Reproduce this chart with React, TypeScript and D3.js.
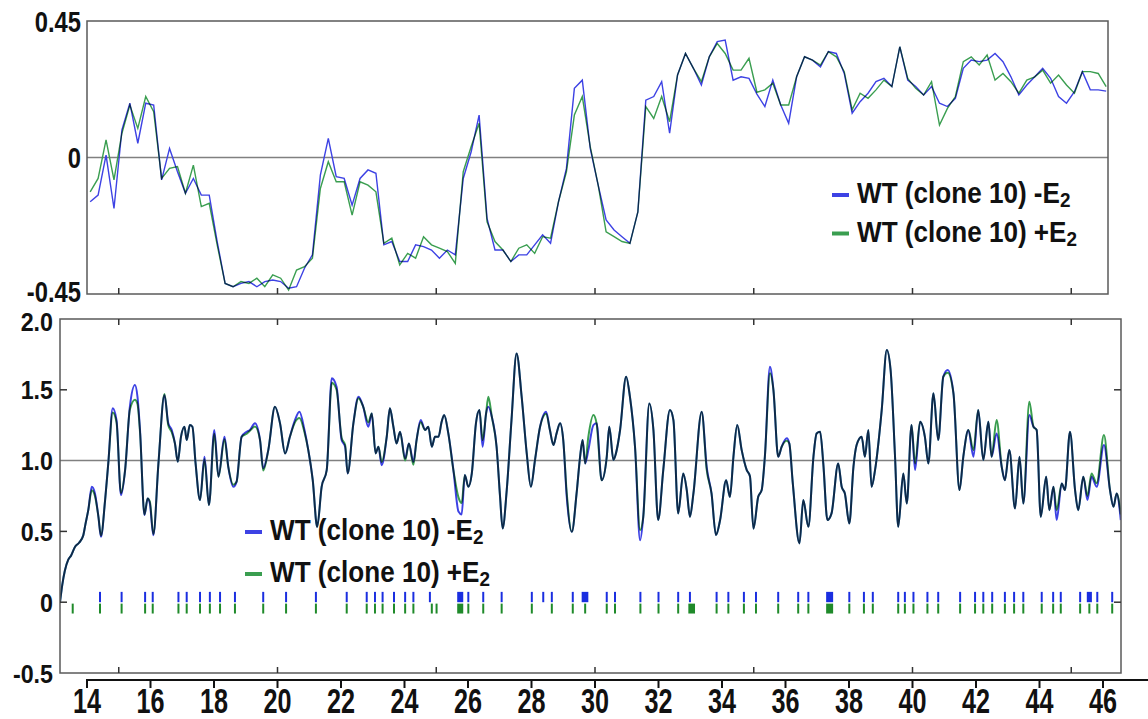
import React from 'react';
import * as d3 from 'd3';

const W = 1148;
const H = 719;
const FONT = '"Liberation Sans", Arial, Helvetica, sans-serif';
const BLUE = '#3d42e4';
const GREEN = '#3a9e50';

// ---------- top panel (binned, 0.25 step) ----------
const topPositions = d3.range(129).map((i) => 14.1 + 0.25 * i);
const topBlue = [
  -0.146, -0.124, 0.008, -0.168, 0.091, 0.179, 0.047, 0.179, 0.173, -0.074,
  0.03, -0.047, -0.118, -0.069, -0.124, -0.124, -0.277, -0.415, -0.426, -0.415,
  -0.409, -0.426, -0.409, -0.404, -0.409, -0.431, -0.426, -0.365, -0.321, -0.058,
  0.063, -0.063, -0.069, -0.157, -0.069, -0.041, -0.052, -0.288, -0.277, -0.343,
  -0.343, -0.288, -0.294,
  -0.305, -0.332, -0.305, -0.321, -0.069, 0.019, 0.14, -0.201, -0.305, -0.305,
  -0.343, -0.321, -0.321, -0.288, -0.255, -0.283, -0.146, -0.036, 0.228, 0.255,
  0.03, -0.091, -0.206, -0.239, -0.261, -0.283, -0.179, 0.189, 0.201, 0.25,
  0.08, 0.272, 0.343, 0.294, 0.239, 0.332, 0.382, 0.387, 0.255, 0.266,
  0.261, 0.209,
  0.168, 0.255, 0.173, 0.113, 0.266, 0.332, 0.321, 0.299, 0.349, 0.343,
  0.277, 0.146, 0.184, 0.212, 0.25, 0.261, 0.234, 0.365, 0.255, 0.234,
  0.206, 0.234, 0.179, 0.168, 0.195, 0.294, 0.321, 0.316, 0.321, 0.343,
  0.316, 0.266, 0.206, 0.239, 0.266, 0.294, 0.261, 0.201, 0.179, 0.217,
  0.283, 0.223, 0.223, 0.219,
];
const topGreen = [
  -0.113, -0.069, 0.058, -0.074, 0.08, 0.173, 0.096, 0.201, 0.151, -0.069,
  -0.036, -0.03, -0.118, -0.025, -0.162, -0.151, -0.288, -0.415, -0.426, -0.409,
  -0.415, -0.398, -0.426, -0.387, -0.398, -0.437, -0.371, -0.36, -0.332, -0.102,
  -0.014, -0.08, -0.08, -0.19, -0.08, -0.091, -0.113, -0.283, -0.266, -0.354,
  -0.316, -0.332, -0.261,
  -0.288, -0.299, -0.31, -0.349, -0.047, 0.036, 0.113, -0.212, -0.277, -0.305,
  -0.343, -0.299, -0.288, -0.316, -0.261, -0.266, -0.146, -0.047, 0.14, 0.201,
  0.036, -0.091, -0.245, -0.261, -0.277, -0.283, -0.179, 0.168, 0.129, 0.201,
  0.118, 0.272, 0.343, 0.294, 0.25, 0.332, 0.376, 0.343, 0.288, 0.288,
  0.327, 0.215,
  0.223, 0.245, 0.173, 0.173, 0.266, 0.332, 0.321, 0.305, 0.349, 0.332,
  0.283, 0.157, 0.212, 0.195, 0.223, 0.255, 0.234, 0.365, 0.261, 0.228,
  0.206, 0.25, 0.107, 0.162, 0.201, 0.316, 0.332, 0.305, 0.338, 0.255,
  0.277, 0.25, 0.212, 0.255, 0.266, 0.288, 0.245, 0.272, 0.239, 0.212,
  0.283, 0.283, 0.277, 0.234,
];

// ---------- bottom panel ----------
const bottomPositions = [
  13.15, 13.22, 13.3, 13.41, 13.5, 13.62, 13.75, 13.88, 13.95, 14.04,
  14.15, 14.25, 14.36, 14.44, 14.57, 14.67, 14.81, 14.93, 15.07, 15.2,
  15.35, 15.51, 15.59, 15.67, 15.81, 15.91, 15.98, 16.09, 16.25, 16.44,
  16.56, 16.67, 16.77, 16.86, 16.96, 17.07, 17.14, 17.24, 17.32, 17.42,
  17.56, 17.7, 17.84, 18.01, 18.14, 18.33, 18.45, 18.61, 18.71, 18.87,
  19.03, 19.13, 19.29, 19.45, 19.55, 19.71, 19.92, 20.08, 20.24, 20.39,
  20.55, 20.69, 20.85, 20.97, 21.11, 21.25, 21.39, 21.55, 21.71, 21.86,
  22.02, 22.13, 22.21, 22.39, 22.55, 22.7, 22.86, 22.97, 23.09, 23.18,
  23.28, 23.44, 23.54, 23.65, 23.75, 23.86, 24.02, 24.14, 24.28, 24.38,
  24.51, 24.65, 24.75, 24.86, 24.96, 25.07, 25.17, 25.25, 25.38, 25.54,
  25.7, 25.8, 25.9, 26.01, 26.12, 26.25, 26.36, 26.46, 26.57, 26.64,
  26.75, 26.9, 27.01, 27.09, 27.22, 27.37, 27.53, 27.69, 27.85, 27.98,
  28.11, 28.27, 28.46, 28.58, 28.69, 28.79, 28.9, 29.0, 29.11, 29.27,
  29.42, 29.53, 29.61, 29.69, 29.79, 29.95, 30.05, 30.21, 30.37, 30.45,
  30.58, 30.66, 30.79, 30.98, 31.1, 31.26, 31.42, 31.52, 31.71, 31.84,
  31.99, 32.15, 32.36, 32.47, 32.62, 32.78, 32.89, 32.99, 33.1, 33.36,
  33.52, 33.67, 33.81, 33.94, 34.13, 34.25, 34.36, 34.48, 34.62, 34.78,
  34.88, 34.99, 35.14, 35.25, 35.35, 35.51, 35.62, 35.77, 35.88, 36.04,
  36.12, 36.23, 36.44, 36.56, 36.72, 36.88, 36.98, 37.09, 37.19, 37.32,
  37.45, 37.66, 37.77, 37.87, 38.01, 38.14, 38.24, 38.4, 38.5, 38.61,
  38.71, 38.82, 39.03, 39.19, 39.31, 39.45, 39.55, 39.71, 39.82, 39.97,
  40.08, 40.24, 40.39, 40.5, 40.66, 40.81, 40.97, 41.11, 41.29, 41.48,
  41.6, 41.76, 41.92, 42.07, 42.23, 42.39, 42.49, 42.65, 42.81, 42.91,
  43.05, 43.23, 43.37, 43.49, 43.68, 43.81, 43.91, 44.04, 44.21, 44.31,
  44.44, 44.54, 44.7, 44.8, 44.96, 45.12, 45.22, 45.38, 45.51, 45.64,
  45.8, 46.03, 46.22, 46.33, 46.43, 46.56,
];
const bottomBlue = [
  0.0, 0.12, 0.22, 0.3, 0.33, 0.39, 0.42, 0.47, 0.55, 0.65,
  0.815, 0.768, 0.603, 0.462, 0.721, 0.98, 1.369, 1.286, 0.756, 0.933,
  1.38, 1.534, 1.451, 1.216, 0.615, 0.733, 0.697, 0.473, 0.98, 1.463,
  1.263, 1.216, 1.121, 0.992, 1.168, 1.239, 1.145, 1.251, 1.239, 0.98,
  0.721, 1.027, 0.686, 1.216, 0.886, 1.168, 0.956, 0.815, 0.85, 1.168,
  1.204, 1.216, 1.263, 1.145, 0.945, 1.074, 1.38, 1.263, 1.051, 1.168,
  1.286, 1.345, 1.216, 1.074, 0.862, 0.532, 0.815, 0.933, 1.581, 1.522,
  1.145, 1.098, 0.909, 1.263, 1.451, 1.38, 1.239, 1.333, 1.051, 1.098,
  0.968, 1.168, 1.369, 1.239, 1.121, 1.204, 1.015, 1.121, 0.99, 1.145,
  1.286, 1.216, 1.239, 1.098, 1.168, 1.168, 1.274, 1.322, 1.192, 0.933,
  0.64, 0.62, 0.898, 0.815, 0.909, 1.263, 1.357, 1.098, 1.333, 1.38,
  1.31, 1.098, 0.744, 0.521, 0.792, 1.286, 1.757, 1.451, 1.051, 0.815,
  1.004, 1.239, 1.345, 1.216, 1.11, 1.192, 1.263, 1.145, 0.744, 0.497,
  0.768, 1.027, 1.145, 0.98, 1.074, 1.251, 1.263, 0.862, 1.027, 1.239,
  1.004, 1.051, 1.216, 1.593, 1.451, 1.098, 0.438, 0.603, 1.404, 1.216,
  0.58, 0.933, 1.357, 1.286, 0.627, 0.909, 0.792, 0.603, 0.768, 1.345,
  0.95, 0.768, 0.474, 0.58, 0.862, 0.744, 1.027, 1.251, 1.074, 0.933,
  0.89, 0.52, 0.744, 0.792, 1.027, 1.663, 1.498, 1.027, 1.098, 1.157,
  1.121, 0.839, 0.415, 0.721, 0.532, 1.027, 1.192, 1.204, 0.98, 0.58,
  0.627, 0.98, 0.815, 0.768, 0.556, 0.956, 1.11, 1.168, 1.027, 1.216,
  0.815, 0.933, 1.357, 1.781, 1.64, 1.027, 0.532, 0.909, 0.697, 1.251,
  0.933, 1.274, 1.168, 0.98, 1.475, 1.145, 1.593, 1.64, 1.475, 0.792,
  1.027, 1.216, 1.027, 1.357, 1.004, 1.274, 1.027, 1.192, 0.956, 0.862,
  1.074, 0.662, 1.027, 0.697, 1.322, 1.239, 1.216, 0.603, 0.886, 0.65,
  0.815, 0.58, 0.839, 0.792, 1.204, 0.792, 0.65, 0.886, 0.721, 0.886,
  0.815, 1.11, 0.792, 0.674, 0.768, 0.58,
];
const bottomGreen = [
  0.0, 0.12, 0.22, 0.3, 0.33, 0.39, 0.42, 0.47, 0.55, 0.65,
  0.79, 0.75, 0.603, 0.47, 0.721, 0.98, 1.34, 1.27, 0.77, 0.933,
  1.36, 1.43, 1.4, 1.2, 0.62, 0.733, 0.71, 0.48, 0.98, 1.47,
  1.25, 1.2, 1.121, 0.992, 1.168, 1.239, 1.145, 1.251, 1.239, 0.98,
  0.721, 1.01, 0.686, 1.19, 0.886, 1.15, 0.956, 0.83, 0.85, 1.168,
  1.19, 1.21, 1.24, 1.145, 0.93, 1.074, 1.38, 1.263, 1.051, 1.168,
  1.27, 1.3, 1.2, 1.074, 0.862, 0.532, 0.815, 0.933, 1.55, 1.5,
  1.16, 1.11, 0.909, 1.263, 1.44, 1.38, 1.27, 1.333, 1.051, 1.098,
  0.99, 1.168, 1.369, 1.239, 1.121, 1.204, 1.0, 1.121, 0.97, 1.145,
  1.27, 1.216, 1.239, 1.098, 1.168, 1.168, 1.274, 1.322, 1.192, 0.933,
  0.74, 0.7, 0.898, 0.815, 0.909, 1.263, 1.357, 1.145, 1.333, 1.451,
  1.31, 1.098, 0.744, 0.521, 0.792, 1.286, 1.757, 1.451, 1.051, 0.815,
  1.004, 1.239, 1.33, 1.216, 1.11, 1.192, 1.263, 1.145, 0.77, 0.497,
  0.768, 1.027, 1.145, 0.98, 1.168, 1.322, 1.263, 0.862, 1.027, 1.239,
  1.004, 1.051, 1.216, 1.593, 1.451, 1.098, 0.509, 0.603, 1.404, 1.216,
  0.58, 0.933, 1.357, 1.286, 0.627, 0.909, 0.792, 0.603, 0.768, 1.345,
  0.933, 0.768, 0.474, 0.58, 0.862, 0.744, 1.027, 1.251, 1.074, 0.933,
  0.89, 0.52, 0.744, 0.792, 1.027, 1.616, 1.498, 1.027, 1.098, 1.14,
  1.121, 0.839, 0.415, 0.721, 0.532, 1.027, 1.192, 1.204, 0.98, 0.58,
  0.627, 0.98, 0.815, 0.768, 0.556, 0.956, 1.11, 1.168, 1.027, 1.216,
  0.815, 0.933, 1.357, 1.781, 1.64, 1.027, 0.532, 0.909, 0.697, 1.251,
  0.98, 1.274, 1.168, 0.98, 1.475, 1.145, 1.593, 1.62, 1.475, 0.792,
  1.027, 1.216, 1.074, 1.357, 1.004, 1.274, 1.027, 1.286, 0.956, 0.862,
  1.074, 0.662, 1.027, 0.697, 1.416, 1.239, 1.216, 0.603, 0.886, 0.65,
  0.815, 0.65, 0.839, 0.792, 1.204, 0.792, 0.65, 0.886, 0.75, 0.909,
  0.84, 1.18, 0.792, 0.674, 0.768, 0.62,
];

// ---------- site marks ----------
const blueMarks = [
  14.41, 15.09, 15.83, 16.07, 16.88, 17.14, 17.56, 17.87, 18.19, 18.66,
  19.55, 20.27, 21.21, 22.18, 22.81, 23.07, 23.31, 23.67, 24.02, 24.28,
  24.8, 26.01, 26.48, 27.06, 28.01, 28.37, 28.64, 29.3, 30.37, 30.63,
  31.43, 32.0, 32.62, 32.99, 33.83, 34.2, 34.69, 35.07, 35.77, 36.4,
  36.72, 38.01, 38.47, 38.75, 39.55, 39.76, 40.03, 40.47, 40.81, 41.5,
  41.97, 42.23, 42.51, 42.91, 43.2, 43.49, 44.07, 44.43, 44.67, 45.28,
  45.82, 46.29,
];
const greenMarks = [
  13.55, 14.41, 15.09, 15.83, 16.07, 16.88, 17.14, 17.56, 17.87, 18.19,
  18.66, 19.55, 20.27, 21.21, 22.18, 22.81, 23.07, 23.31, 23.67, 24.02,
  24.28, 24.86, 25.01, 26.01, 26.48, 27.06, 28.01, 28.64, 29.3, 29.69,
  30.37, 30.63, 31.43, 32.0, 32.62, 33.83, 34.2, 34.69, 35.07, 35.77,
  36.4, 36.72, 38.01, 38.47, 38.75, 39.55, 39.76, 40.03, 40.47, 40.81,
  41.5, 41.97, 42.23, 42.51, 42.91, 43.2, 43.49, 44.07, 44.43, 44.67,
  45.28, 45.57, 45.82, 46.29,
];
const blueBlockStarts = [25.66, 29.58, 37.28, 45.49];
const blueBlockEnds = [25.85, 29.79, 37.5, 45.65];
const greenBlockStarts = [25.66, 32.94, 37.28];
const greenBlockEnds = [25.85, 33.15, 37.5];

// ---------- axes ----------
const topYTicks = [0.45, 0, -0.45];
const topYLabels = ['0.45', '0', '-0.45'];
const bottomYTicks = [2.0, 1.5, 1.0, 0.5, 0, -0.5];
const bottomYLabels = ['2.0', '1.5', '1.0', '0.5', '0', '-0.5'];
const xAxisTicks = d3.range(14, 47, 2);
const innerXTicks = [15, 20, 25, 30, 35, 40, 45];
const innerYTicks = [1.5, 0.5, 0];
const legendLabels = ['WT (clone 10) -E', 'WT (clone 10) +E'];
const legendColors = [BLUE, GREEN];

export default function App() {
  const x = d3.scaleLinear().domain([14, 46]).range([87, 1103]);
  const yTop = d3.scaleLinear().domain([-0.45, 0.45]).range([294, 21]);
  const yBot = d3.scaleLinear().domain([-0.5, 2.0]).range([673, 319]);

  const topFrame = { x0: 87, x1: 1108, y0: 21, y1: 294 };
  const botFrame = { x0: 60, x1: 1121, y0: 319, y1: 673 };

  const topLine = d3
    .line<number>()
    .x((_, i) => x(topPositions[i]))
    .y((d) => yTop(d));
  const botLine = d3
    .line<number>()
    .x((_, i) => x(bottomPositions[i]))
    .y((d) => yBot(d))
    .curve(d3.curveMonotoneX);

  const frameColor = '#5a5a5a';
  const refColor = '#808080';

  // baseline offsets keep each label centred on its tick; the outermost
  // labels are nudged apart where the two panels meet
  const topLabelY = (t: number) => yTop(t) + (t < 0 ? 8 : 10.5);
  const botLabelY = (t: number) => yBot(t) + (t >= 2 ? 12 : 9.5);

  const legend = (x0: number, y0: number, dy: number) =>
    legendLabels.map((lab, i) => (
      <g key={lab}>
        <line
          x1={x0}
          x2={x0 + 17}
          y1={y0 + i * dy - 8}
          y2={y0 + i * dy - 8}
          stroke={legendColors[i]}
          strokeWidth={4}
        />
        <text
          transform={`translate(${x0 + 25},${y0 + i * dy}) scale(0.9,1)`}
          fontFamily={FONT}
          fontWeight="bold"
          fontSize={29}
          fill="#111"
        >
          {lab}
          <tspan fontSize={21} dy={4}>
            2
          </tspan>
        </text>
      </g>
    ));

  return (
    <svg
      width={W}
      height={H}
      style={{ position: 'absolute', left: 0, top: 0, background: '#fff' }}
    >
      <rect x={0} y={0} width={W} height={H} fill="#fff" />
      <defs>
        <clipPath id="clipTop">
          <rect x={topFrame.x0} y={topFrame.y0} width={topFrame.x1 - topFrame.x0} height={topFrame.y1 - topFrame.y0} />
        </clipPath>
        <clipPath id="clipBot">
          <rect x={botFrame.x0} y={botFrame.y0} width={botFrame.x1 - botFrame.x0} height={botFrame.y1 - botFrame.y0} />
        </clipPath>
      </defs>

      {/* ===== TOP PANEL ===== */}
      <line x1={topFrame.x0} x2={topFrame.x1} y1={yTop(0)} y2={yTop(0)} stroke={refColor} strokeWidth={1.5} />
      <g clipPath="url(#clipTop)">
        <path d={topLine(topBlue) || ''} fill="none" stroke={BLUE} strokeWidth={1.4} />
        <path d={topLine(topGreen) || ''} fill="none" stroke={GREEN} strokeWidth={1.4} style={{ mixBlendMode: 'multiply' }} />
      </g>
      <rect x={topFrame.x0} y={topFrame.y0} width={topFrame.x1 - topFrame.x0} height={topFrame.y1 - topFrame.y0} fill="none" stroke={frameColor} strokeWidth={1.5} />
      {innerXTicks.map((t) => (
        <line key={'tt' + t} x1={x(t)} x2={x(t)} y1={topFrame.y1} y2={topFrame.y1 - 6} stroke="#333" strokeWidth={1.5} />
      ))}
      {topYTicks.map((t, i) => (
        <text
          key={'ty' + t}
          transform={`translate(81,${topLabelY(t)}) scale(0.82,1)`}
          textAnchor="end"
          fontFamily={FONT}
          fontWeight="bold"
          fontSize={29}
          fill="#111"
        >
          {topYLabels[i]}
        </text>
      ))}
      {legend(832, 203, 38.5)}

      {/* ===== BOTTOM PANEL ===== */}
      <line x1={botFrame.x0} x2={botFrame.x1} y1={yBot(1)} y2={yBot(1)} stroke={refColor} strokeWidth={1.5} />
      <g clipPath="url(#clipBot)">
        <path d={botLine(bottomBlue) || ''} fill="none" stroke={BLUE} strokeWidth={2} />
        <path d={botLine(bottomGreen) || ''} fill="none" stroke={GREEN} strokeWidth={2} style={{ mixBlendMode: 'multiply' }} />
        {blueMarks.map((m) => (
          <line key={'bm' + m} x1={x(m)} x2={x(m)} y1={yBot(0.073)} y2={yBot(0.0)} stroke="#1a2ee0" strokeWidth={2} />
        ))}
        {blueBlockStarts.map((s, i) => (
          <rect key={'bb' + s} x={x(s)} y={yBot(0.073)} width={x(blueBlockEnds[i]) - x(s)} height={yBot(0.0) - yBot(0.073)} fill="#1a2ee0" />
        ))}
        {greenMarks.map((m) => (
          <line key={'gm' + m} x1={x(m)} x2={x(m)} y1={yBot(-0.01)} y2={yBot(-0.08)} stroke="#1f8a2a" strokeWidth={2} />
        ))}
        {greenBlockStarts.map((s, i) => (
          <rect key={'gb' + s} x={x(s)} y={yBot(-0.01)} width={x(greenBlockEnds[i]) - x(s)} height={yBot(-0.08) - yBot(-0.01)} fill="#1f8a2a" />
        ))}
      </g>
      <rect x={botFrame.x0} y={botFrame.y0} width={botFrame.x1 - botFrame.x0} height={botFrame.y1 - botFrame.y0} fill="none" stroke={frameColor} strokeWidth={1.5} />
      {innerXTicks.map((t) => (
        <g key={'bt' + t}>
          <line x1={x(t)} x2={x(t)} y1={botFrame.y0} y2={botFrame.y0 + 6} stroke="#333" strokeWidth={1.5} />
          <line x1={x(t)} x2={x(t)} y1={botFrame.y1} y2={botFrame.y1 - 6} stroke="#333" strokeWidth={1.5} />
        </g>
      ))}
      {innerYTicks.map((t) => (
        <g key={'by' + t}>
          <line x1={botFrame.x0} x2={botFrame.x0 + 7} y1={yBot(t)} y2={yBot(t)} stroke="#333" strokeWidth={1.5} />
          <line x1={botFrame.x1} x2={botFrame.x1 - 7} y1={yBot(t)} y2={yBot(t)} stroke="#333" strokeWidth={1.5} />
        </g>
      ))}
      {bottomYTicks.map((t, i) => (
        <text
          key={'byl' + t}
          transform={`translate(53,${botLabelY(t)}) scale(0.93,1)`}
          textAnchor="end"
          fontFamily={FONT}
          fontWeight="bold"
          fontSize={25}
          fill="#111"
        >
          {bottomYLabels[i]}
        </text>
      ))}
      {legend(245, 540, 42)}

      {/* ===== OUTER X AXIS ===== */}
      <line x1={x(14) - 1} x2={W} y1={680} y2={680} stroke="#111" strokeWidth={2} />
      {xAxisTicks.map((t) => (
        <g key={'xa' + t}>
          <line x1={x(t)} x2={x(t)} y1={680} y2={688} stroke="#111" strokeWidth={2} />
          <text
            transform={`translate(${x(t)},713) scale(0.72,1)`}
            textAnchor="middle"
            fontFamily={FONT}
            fontWeight="bold"
            fontSize={35}
            fill="#111"
          >
            {t}
          </text>
        </g>
      ))}
    </svg>
  );
}
